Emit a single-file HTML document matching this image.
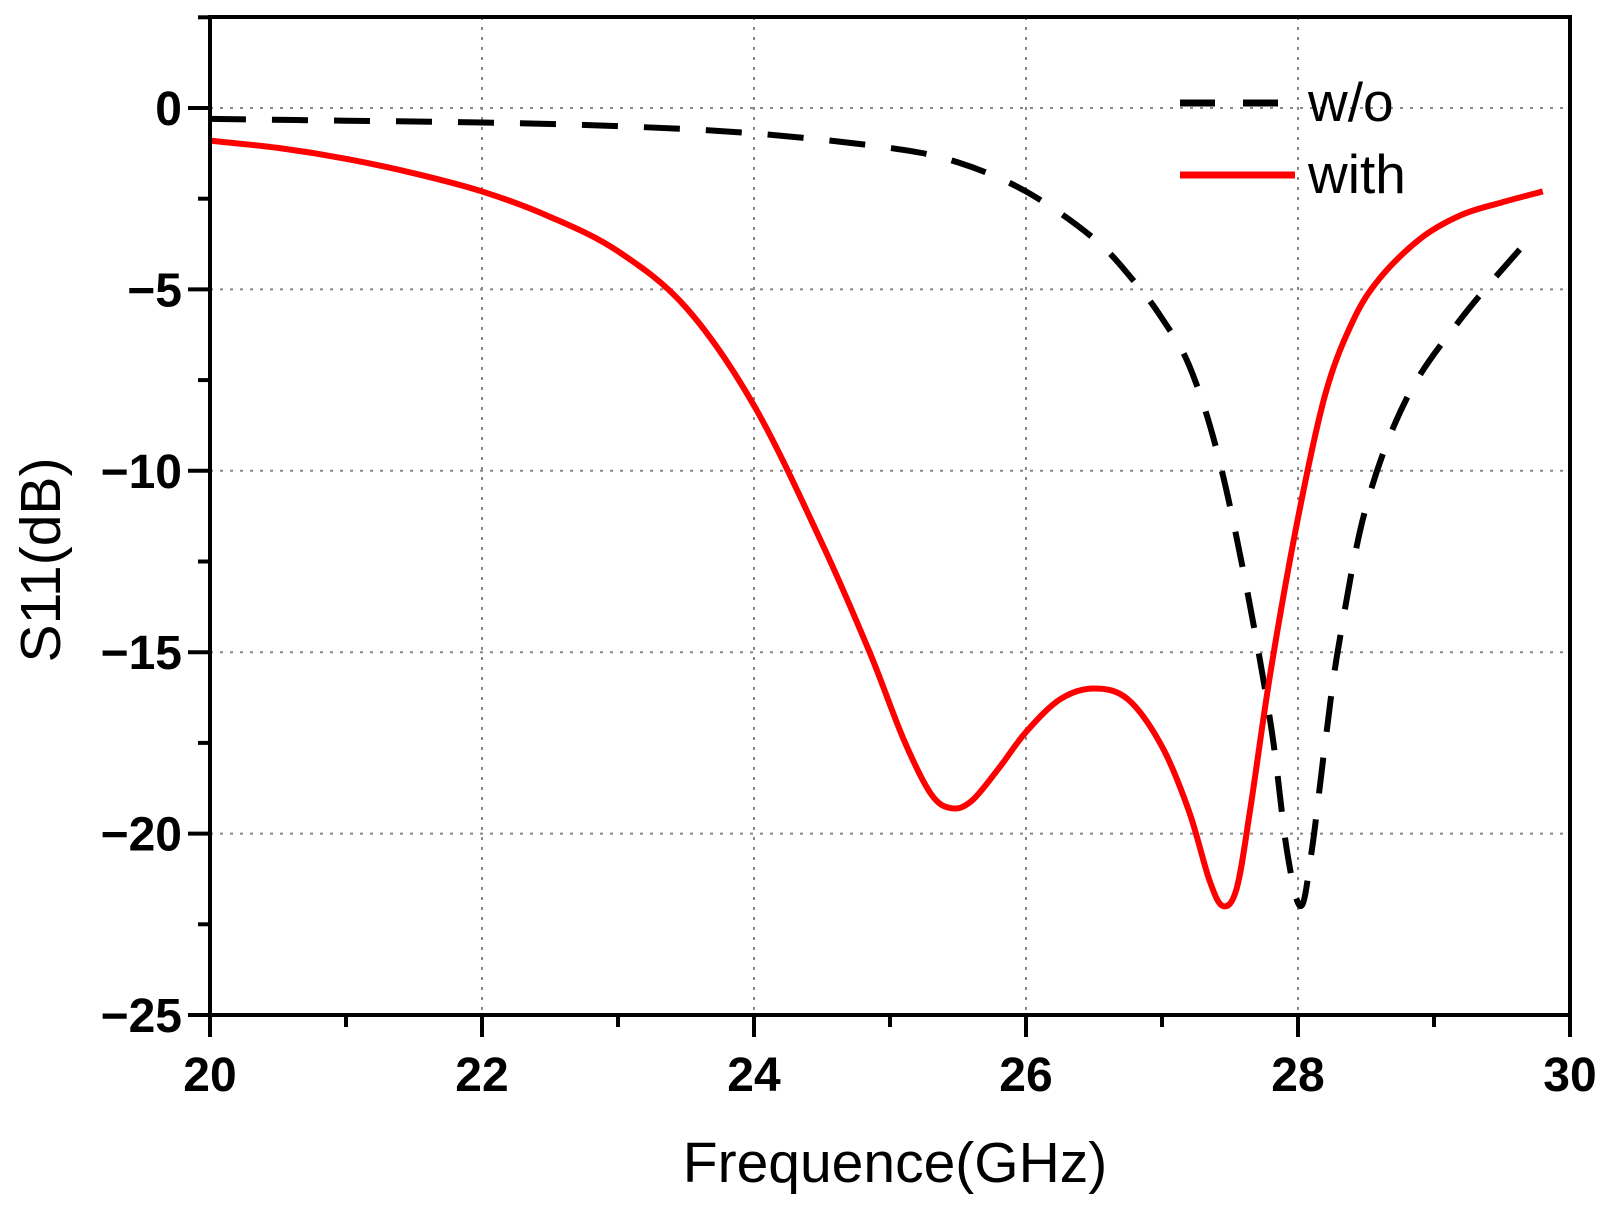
<!DOCTYPE html>
<html><head><meta charset="utf-8"><style>body{margin:0;background:#fff}svg{display:block}</style></head><body>
<svg id="s" width="1608" height="1206" xmlns="http://www.w3.org/2000/svg" font-family="Liberation Sans, sans-serif">
<g id="grid" stroke="#888" stroke-width="2" stroke-dasharray="3,7"></g>
<g id="curves" fill="none" stroke-linejoin="round"></g>
<g id="axes" stroke="#000" stroke-width="4" fill="none"></g>
<g id="labels" font-weight="bold" font-size="48" fill="#000"></g>
<text x="895" y="1182" font-size="57" text-anchor="middle">Frequence(GHz)</text>
<text transform="translate(60,560) rotate(-90)" font-size="57" text-anchor="middle">S11(dB)</text>
<line x1="1180" y1="103" x2="1295" y2="103" stroke="#000" stroke-width="7" stroke-dasharray="35,28"/>
<text x="1308" y="121" font-size="55">w/o</text>
<line x1="1180" y1="175" x2="1295" y2="175" stroke="#f00" stroke-width="7"/>
<text x="1308" y="193" font-size="55">with</text>
</svg>
<script>
const L=210,R=1570,T=17,B=1015;
const X=x=>L+(x-20)*136, Y=y=>108-y*36.28;
const ns="http://www.w3.org/2000/svg";
function el(p,t,a,txt){const e=document.createElementNS(ns,t);for(const k in a)e.setAttribute(k,a[k]);if(txt!==undefined)e.textContent=txt;document.getElementById(p).appendChild(e);return e;}
for(let x=22;x<30;x+=2)el('grid','line',{x1:X(x),y1:T,x2:X(x),y2:B});
for(let y=0;y>-25;y-=5)el('grid','line',{x1:L,y1:Y(y),x2:R,y2:Y(y)});
el('axes','rect',{x:L,y:T,width:R-L,height:B-T});
for(let x=20;x<=30;x++){const m=x%2==0;el('axes','line',{x1:X(x),y1:B,x2:X(x),y2:B+(m?22:12)});
 if(m)el('labels','text',{x:X(x),y:B+76,'text-anchor':'middle'},x);}
for(let i=0;i<=11;i++){const y=2.5-i*2.5;const m=Math.abs(y%5)<0.01;
 el('axes','line',{x1:L,y1:Y(y),x2:L-(m?22:12),y2:Y(y)});
 if(m)el('labels','text',{x:L-28,y:Y(y)+17,'text-anchor':'end'},y==0?'0':'\u2212'+(-y));}
function path(pts){const p=pts.map(([x,y])=>[X(x),Y(y)]);let d='M'+p[0];
 for(let i=0;i<p.length-1;i++){const p0=p[i-1]||p[i],p1=p[i],p2=p[i+1],p3=p[i+2]||p2;
 const c1=[p1[0]+(p2[0]-p0[0])/6,p1[1]+(p2[1]-p0[1])/6],c2=[p2[0]-(p3[0]-p1[0])/6,p2[1]-(p3[1]-p1[1])/6];
 d+='C'+c1+' '+c2+' '+p2;}return d;}
const red=[[20,-0.9],[20.5,-1.1],[21,-1.4],[21.5,-1.8],[22,-2.3],[22.5,-3.0],[23,-3.95],[23.5,-5.5],[24,-8.2],[24.5,-12.0],[24.85,-15],[25.1,-17.4],[25.3,-18.9],[25.45,-19.3],[25.6,-19.1],[25.8,-18.2],[26,-17.2],[26.25,-16.3],[26.5,-16.0],[26.75,-16.3],[27,-17.6],[27.2,-19.4],[27.35,-21.3],[27.45,-22],[27.55,-21.5],[27.65,-19.3],[27.8,-15.5],[28,-11.3],[28.2,-7.9],[28.4,-5.9],[28.6,-4.7],[28.9,-3.6],[29.2,-2.95],[29.5,-2.6],[29.8,-2.3]];
const blk=[[20,-0.3],[21,-0.35],[22,-0.4],[23,-0.5],[24,-0.7],[25,-1.1],[25.5,-1.5],[26,-2.3],[26.5,-3.6],[26.8,-4.8],[27,-5.8],[27.2,-7.1],[27.4,-9.4],[27.6,-12.8],[27.8,-17],[27.92,-20.5],[28.02,-22],[28.1,-20.5],[28.2,-17.5],[28.3,-14.8],[28.5,-11],[28.8,-8],[29.2,-5.8],[29.7,-3.6]];
el('curves','path',{d:path(blk),stroke:'#000','stroke-width':6,'stroke-dasharray':'36,26'});
el('curves','path',{d:path(red),stroke:'#f00','stroke-width':6});
</script>
</body></html>
